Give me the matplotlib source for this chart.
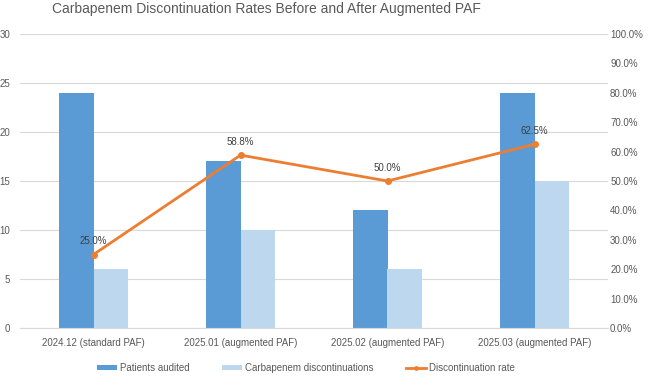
import matplotlib.pyplot as plt
import numpy as np
from matplotlib.ticker import FuncFormatter

plt.rcParams['font.family'] = ['Liberation Sans Narrow', 'Liberation Sans', 'DejaVu Sans']

categories = ["2024.12 (standard PAF)", "2025.01 (augmented PAF)",
              "2025.02 (augmented PAF)", "2025.03 (augmented PAF)"]
patients_audited = [24, 17, 12, 24]
discontinuations = [6, 10, 6, 15]
rate = [25.0, 58.8, 50.0, 62.5]

DARK = "#5B9BD5"
LIGHT = "#BDD7EE"
ORANGE = "#ED7D31"
GRID = "#D9D9D9"
TXT = "#595959"

fig = plt.figure(figsize=(6.5, 3.76), dpi=100)
ax = fig.add_axes([20 / 650, 48 / 376, 588 / 650, 294 / 376])
ax2 = ax.twinx()

x = np.arange(len(categories))
w = 0.238
b1 = ax.bar(x - w / 2, patients_audited, w, color=DARK, label="Patients audited", zorder=2)
b2 = ax.bar(x + w / 2, discontinuations, w, color=LIGHT, label="Carbapenem discontinuations", zorder=2)

ax.set_ylim(0, 30)
ax.set_yticks(range(0, 31, 5))
ax.set_xlim(-0.5, len(categories) - 0.5)
ax.set_xticks(x)
ax.set_xticklabels(categories)
ax.yaxis.grid(True, color=GRID, linewidth=0.8, zorder=0)
ax.set_axisbelow(True)

ln, = ax2.plot(x, rate, color=ORANGE, linewidth=2, marker="o", markersize=4,
               label="Discontinuation rate", zorder=3)
ax2.set_ylim(0, 100)
ax2.set_yticks(range(0, 101, 10))
ax2.yaxis.set_major_formatter(FuncFormatter(lambda v, p: f"{v:.1f}%"))
for xi, r in zip(x, rate):
    ax2.annotate(f"{r:.1f}%", (xi, r), xytext=(0, 6), textcoords="offset points",
                 ha="center", va="bottom", fontsize=7, color="#404040")

for a in (ax, ax2):
    for s in a.spines.values():
        s.set_visible(False)
    a.tick_params(length=0, labelsize=7, colors=TXT)
ax.spines['bottom'].set_visible(True)
ax.spines['bottom'].set_color(GRID)
ax.tick_params(axis='y', pad=7)
ax2.tick_params(axis='y', pad=1.5)
ax.tick_params(axis='x', pad=7)

fig.text(266 / 650, 1 - 9 / 376,
         "Carbapenem Discontinuation Rates Before and After Augmented PAF",
         fontsize=10, color=TXT, ha="center", va="center")

fig.legend([b1, b2, ln], ["Patients audited", "Carbapenem discontinuations", "Discontinuation rate"],
           loc="center", bbox_to_anchor=(306 / 650, 8 / 376), ncol=3, frameon=False,
           fontsize=7, labelcolor=TXT, columnspacing=3.4, handlelength=2.0,
           handletextpad=0.3, handleheight=0.5, markerscale=0.6)

fig.savefig("out.png", dpi=100)
